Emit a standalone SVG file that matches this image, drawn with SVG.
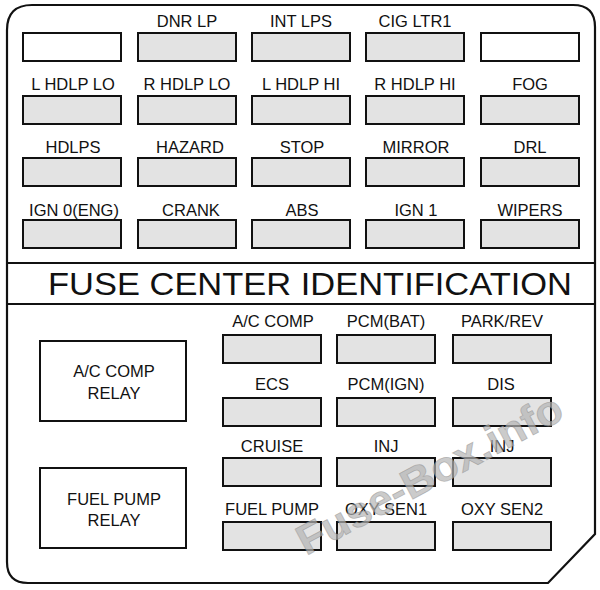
<svg xmlns="http://www.w3.org/2000/svg" width="600" height="590" viewBox="0 0 600 590">
<style>
.fuse{fill:#e3e3e3;stroke:#111;stroke-width:2}
.empty{fill:#fff;stroke:#111;stroke-width:2}
.relay{fill:#fff;stroke:#111;stroke-width:2}
.lbl{font-family:"Liberation Sans",Arial,sans-serif;font-size:16.5px;fill:#111;text-anchor:middle}
.title{font-family:"Liberation Sans",Arial,sans-serif;font-size:30.5px;fill:#111}
.wm{font-family:"Liberation Sans",Arial,sans-serif;font-weight:bold;font-size:42px;fill:#b4b4b4;fill-opacity:0.7;stroke:#8a8a8a;stroke-opacity:0.5;stroke-width:0.8}
</style>
<rect width="600" height="590" fill="#fff"/>
<g id="housing">
<path d="M32,5 H573 Q595,5 595,27 V534 L548,583 H28 Q7,583 7,562 V30 Q7,5 32,5 Z" fill="#fff" stroke="#111" stroke-width="2.2"/>
<line x1="7" y1="263" x2="595" y2="263" stroke="#111" stroke-width="2"/>
<line x1="7" y1="304" x2="595" y2="304" stroke="#111" stroke-width="2"/>
<text class="title" x="48" y="295" textLength="524" lengthAdjust="spacingAndGlyphs">FUSE CENTER IDENTIFICATION</text>
</g>
<g id="top-fuses">
<g id="f-r1c1"><rect class="empty" x="23" y="33" width="98" height="28"/></g>
<g id="f-dnr-lp"><text class="lbl" x="187" y="27">DNR LP</text><rect class="fuse" x="138" y="33" width="98" height="28"/></g>
<g id="f-int-lps"><text class="lbl" x="301" y="27">INT LPS</text><rect class="fuse" x="252" y="33" width="98" height="28"/></g>
<g id="f-cig-ltr1"><text class="lbl" x="415" y="27">CIG LTR1</text><rect class="fuse" x="366" y="33" width="98" height="28"/></g>
<g id="f-r1c5"><rect class="empty" x="481" y="33" width="98" height="28"/></g>

<g id="f-l-hdlp-lo"><text class="lbl" x="73" y="90">L HDLP LO</text><rect class="fuse" x="23" y="96" width="98" height="28"/></g>
<g id="f-r-hdlp-lo"><text class="lbl" x="187" y="90">R HDLP LO</text><rect class="fuse" x="138" y="96" width="98" height="28"/></g>
<g id="f-l-hdlp-hi"><text class="lbl" x="301" y="90">L HDLP HI</text><rect class="fuse" x="252" y="96" width="98" height="28"/></g>
<g id="f-r-hdlp-hi"><text class="lbl" x="415" y="90">R HDLP HI</text><rect class="fuse" x="366" y="96" width="98" height="28"/></g>
<g id="f-fog"><text class="lbl" x="530" y="90">FOG</text><rect class="fuse" x="481" y="96" width="98" height="28"/></g>

<g id="f-hdlps"><text class="lbl" x="73" y="153">HDLPS</text><rect class="fuse" x="23" y="158" width="98" height="28"/></g>
<g id="f-hazard"><text class="lbl" x="190" y="153">HAZARD</text><rect class="fuse" x="138" y="158" width="98" height="28"/></g>
<g id="f-stop"><text class="lbl" x="302" y="153">STOP</text><rect class="fuse" x="252" y="158" width="98" height="28"/></g>
<g id="f-mirror"><text class="lbl" x="416" y="153">MIRROR</text><rect class="fuse" x="366" y="158" width="98" height="28"/></g>
<g id="f-drl"><text class="lbl" x="530" y="153">DRL</text><rect class="fuse" x="481" y="158" width="98" height="28"/></g>

<g id="f-ign0"><text class="lbl" x="74" y="216">IGN 0(ENG)</text><rect class="fuse" x="23" y="220" width="98" height="28"/></g>
<g id="f-crank"><text class="lbl" x="191" y="216">CRANK</text><rect class="fuse" x="138" y="220" width="98" height="28"/></g>
<g id="f-abs"><text class="lbl" x="302" y="216">ABS</text><rect class="fuse" x="252" y="220" width="98" height="28"/></g>
<g id="f-ign1"><text class="lbl" x="416" y="216">IGN 1</text><rect class="fuse" x="366" y="220" width="98" height="28"/></g>
<g id="f-wipers"><text class="lbl" x="530" y="216">WIPERS</text><rect class="fuse" x="481" y="220" width="98" height="28"/></g>
</g>
<g id="relays">
<g id="r-ac-comp"><rect class="relay" x="40" y="341" width="146" height="80"/><text class="lbl" x="114" y="377">A/C COMP</text><text class="lbl" x="114" y="399">RELAY</text></g>
<g id="r-fuel-pump"><rect class="relay" x="40" y="468" width="146" height="80"/><text class="lbl" x="114" y="505">FUEL PUMP</text><text class="lbl" x="114" y="526">RELAY</text></g>
</g>
<g id="bottom-fuses">
<g id="f-ac-comp"><text class="lbl" x="273" y="327">A/C COMP</text><rect class="fuse" x="223" y="335" width="98" height="28"/></g>
<g id="f-pcm-bat"><text class="lbl" x="386" y="327">PCM(BAT)</text><rect class="fuse" x="337" y="335" width="98" height="28"/></g>
<g id="f-park-rev"><text class="lbl" x="502" y="327">PARK/REV</text><rect class="fuse" x="453" y="335" width="98" height="28"/></g>

<g id="f-ecs"><text class="lbl" x="272" y="390">ECS</text><rect class="fuse" x="223" y="398" width="98" height="28"/></g>
<g id="f-pcm-ign"><text class="lbl" x="386" y="390">PCM(IGN)</text><rect class="fuse" x="337" y="398" width="98" height="28"/></g>
<g id="f-dis"><text class="lbl" x="501" y="390">DIS</text><rect class="fuse" x="453" y="398" width="98" height="28"/></g>

<g id="f-cruise"><text class="lbl" x="272" y="452">CRUISE</text><rect class="fuse" x="223" y="458" width="98" height="28"/></g>
<g id="f-inj1"><text class="lbl" x="386" y="452">INJ</text><rect class="fuse" x="337" y="458" width="98" height="28"/></g>
<g id="f-inj2"><text class="lbl" x="502" y="452">INJ</text><rect class="fuse" x="453" y="458" width="98" height="28"/></g>

<g id="f-fuel-pump"><text class="lbl" x="272" y="515">FUEL PUMP</text><rect class="fuse" x="223" y="522" width="98" height="28"/></g>
<g id="f-oxy-sen1"><text class="lbl" x="386" y="515">OXY SEN1</text><rect class="fuse" x="337" y="522" width="98" height="28"/></g>
<g id="f-oxy-sen2"><text class="lbl" x="502" y="515">OXY SEN2</text><rect class="fuse" x="453" y="522" width="98" height="28"/></g>
</g>
<g id="watermark">
<text class="wm" x="306" y="556" transform="rotate(-28 306 556)" textLength="295" lengthAdjust="spacingAndGlyphs">Fuse-Box.info</text>
</g>
</svg>
